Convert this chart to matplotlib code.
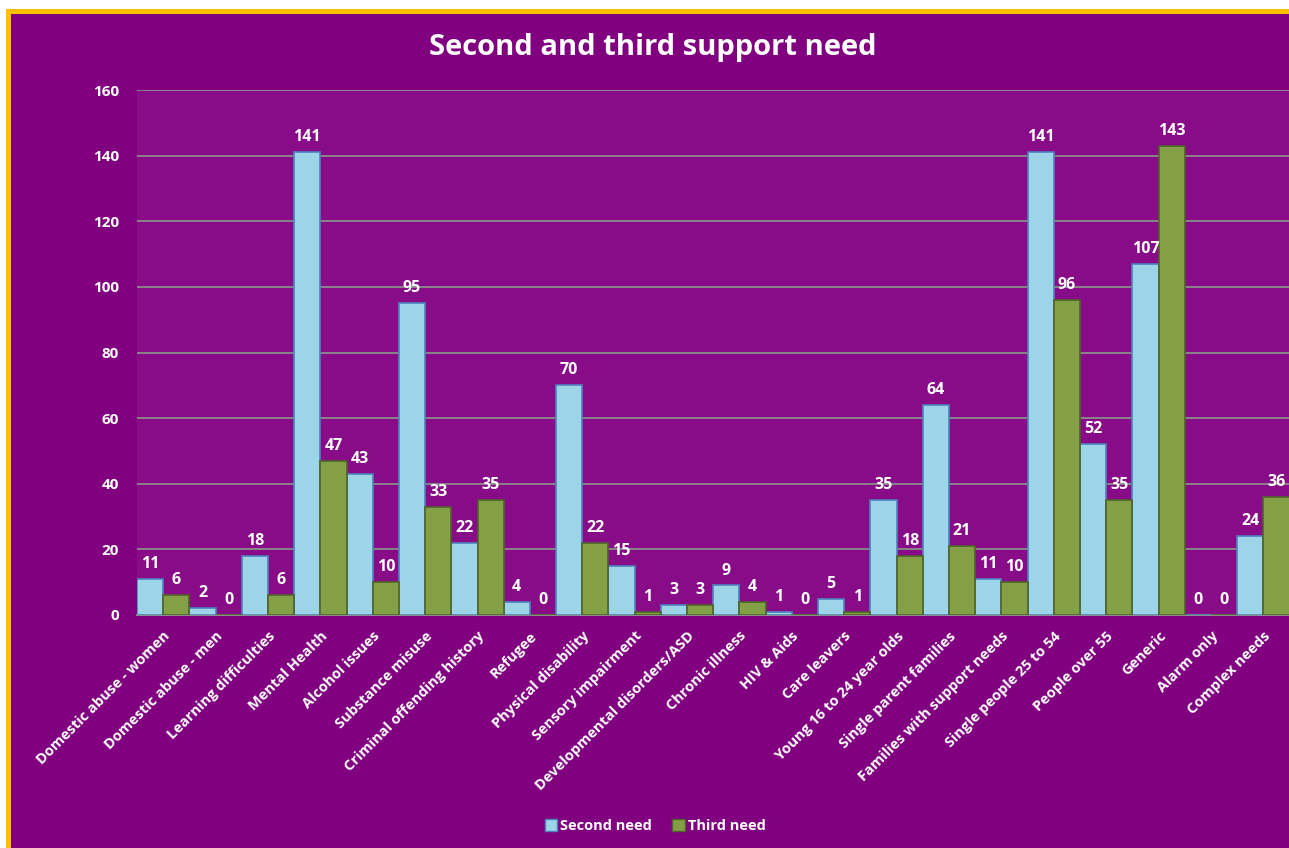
import matplotlib.pyplot as plt
from matplotlib.patches import Rectangle, Patch

categories = ["Domestic abuse - women", "Domestic abuse - men", "Learning difficulties",
              "Mental Health", "Alcohol issues", "Substance misuse",
              "Criminal offending history", "Refugee", "Physical disability",
              "Sensory impairment", "Developmental disorders/ASD", "Chronic illness",
              "HIV & Aids", "Care leavers", "Young 16 to 24 year olds",
              "Single parent families", "Families with support needs",
              "Single people 25 to 54", "People over 55", "Generic", "Alarm only",
              "Complex needs"]
second_need = [11, 2, 18, 141, 43, 95, 22, 4, 70, 15, 3, 9, 1, 5, 35, 64, 11, 141, 52, 107, 0, 24]
third_need = [6, 0, 6, 47, 10, 33, 35, 0, 22, 1, 3, 4, 0, 1, 18, 21, 10, 96, 35, 143, 0, 36]

plt.rcParams['font.family'] = ['Open Sans', 'DejaVu Sans']

W, H = 1289, 848
fig = plt.figure(figsize=(W / 100, H / 100), dpi=100, facecolor='white')

# gold frame and purple chart area
fig.patches.append(Rectangle((6 / W, 0), 1, 1 - 9 / H, transform=fig.transFigure,
                             facecolor='#FFC000', edgecolor='none', zorder=-10))
fig.patches.append(Rectangle((11 / W, 0), 1, 1 - 14 / H, transform=fig.transFigure,
                             facecolor='#800080', edgecolor='none', zorder=-9))

ax = fig.add_axes([137 / W, 1 - 615 / H, (1289.5 - 137) / W, (615 - 90) / H])
ax.set_facecolor('#880C88')

x = range(len(categories))
bw = 0.5
b1 = ax.bar([i - bw / 2 for i in x], second_need, width=bw, color='#9DD5E8',
            edgecolor='#4F81BD', linewidth=1.2, label='Second need', zorder=3)
b2 = ax.bar([i + bw / 2 for i in x], third_need, width=bw, color='#84A046',
            edgecolor='#4F6228', linewidth=1.2, label='Third need', zorder=3)

for bars in (b1, b2):
    for rect in bars:
        h = rect.get_height()
        ax.annotate(f"{int(h)}", (rect.get_x() + rect.get_width() / 2, h),
                    xytext=(0, 5), textcoords='offset points', ha='center', va='bottom',
                    color='white', fontsize=11.5, fontweight='bold', zorder=4)

ax.set_xlim(-0.5, len(categories) - 0.5)
ax.set_ylim(0, 160)
ax.set_yticks(range(0, 161, 20))
ax.yaxis.grid(True, color='#8C8C8C', linewidth=1.3, zorder=1)
ax.set_axisbelow(True)
for s in ['top', 'right', 'left']:
    ax.spines[s].set_visible(False)
ax.spines['bottom'].set_color('#8C8C8C')
ax.spines['bottom'].set_linewidth(1.5)
ax.tick_params(axis='both', length=0, colors='white')
ax.tick_params(axis='y', pad=13)
for t in ax.get_yticklabels():
    t.set_fontweight('bold')
    t.set_fontsize(11)

ax.set_xticks(list(x))
ax.set_xticklabels(categories, rotation=45, ha='right', va='top',
                   rotation_mode='anchor', fontsize=10.5, fontweight='bold', color='white')
ax.tick_params(axis='x', pad=10)

fig.text(653 / W, 1 - 47 / H, "Second and third support need", ha='center', va='center',
         color='white', fontsize=21, fontweight='bold')

handles = [Patch(facecolor='#9DD5E8', edgecolor='#4F81BD', label='Second need'),
           Patch(facecolor='#84A046', edgecolor='#4F6228', label='Third need')]
leg = fig.legend(handles=handles, loc='center', bbox_to_anchor=(655 / W, 1 - 826 / H),
                 ncol=2, frameon=False, fontsize=10.5, handlelength=0.85, handleheight=0.85,
                 handletextpad=0.2, columnspacing=1.4)
for t in leg.get_texts():
    t.set_color('white')
    t.set_fontweight('bold')

fig.savefig('out.png', dpi=100, facecolor=fig.get_facecolor())
